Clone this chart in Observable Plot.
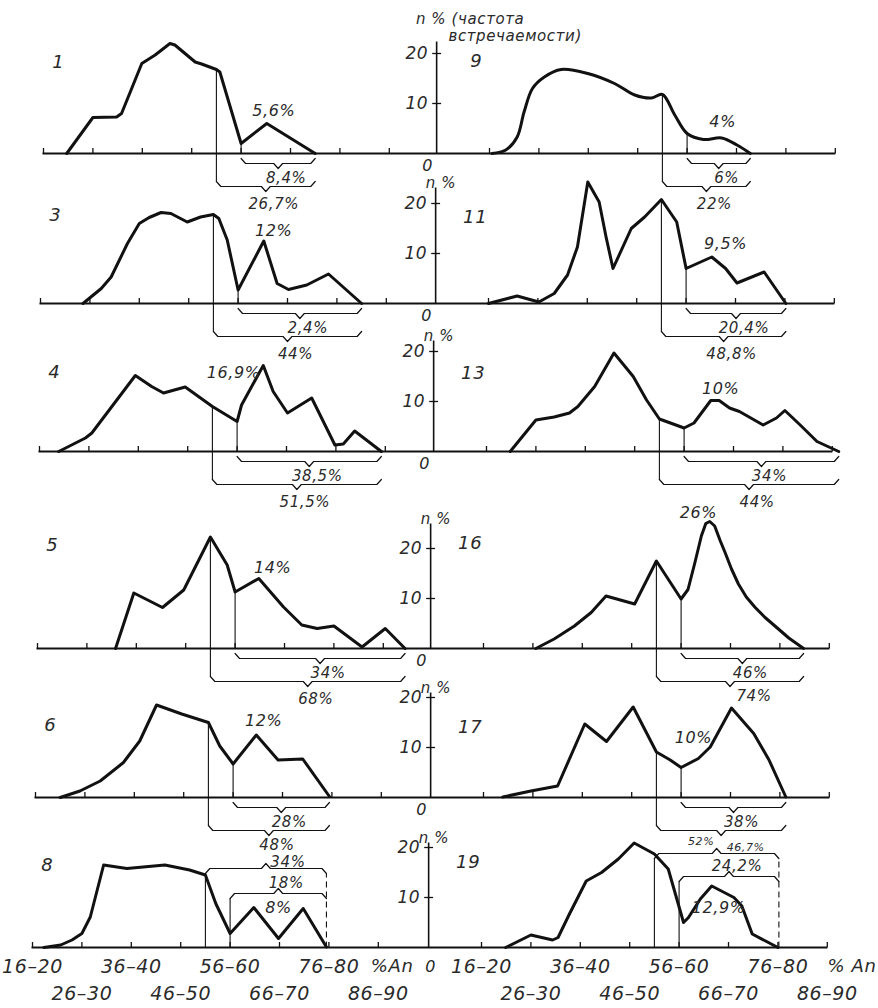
<!DOCTYPE html>
<html><head><meta charset="utf-8">
<script src="https://cdn.jsdelivr.net/npm/d3@7"></script>
<script src="https://cdn.jsdelivr.net/npm/@observablehq/plot@0.6"></script>
<style>body{margin:0;background:#fff}</style>
</head><body><div id="chart"></div>
<script>
// ---------- data ----------
const categories = ["16–20","26–30","36–40","46–50","56–60","66–70","76–80","86–90"];
const yTicks = [10, 20];
// curves: [class index (0 = 16–20), frequency n %]
const p1  = [[0.47,0],[1.0,7.2],[1.48,7.3],[1.58,8],[1.99,18],[2.26,19.7],[2.56,22],[2.66,21.7],[3.07,18.3],[3.2,17.9],[3.5,16.8],[3.57,16.3],[4.0,2],[4.52,6],[5.5,0]];
const p3  = [[0.86,0],[1.23,3],[1.43,5.3],[1.76,12],[2.0,16],[2.2,17.2],[2.44,18.2],[2.64,18],[2.97,16.3],[3.24,17.3],[3.5,17.8],[3.61,17],[3.78,12.7],[4.0,2.7],[4.52,12.5],[4.79,4],[5.02,2.8],[5.39,3.7],[5.83,5.9],[6.5,0]];
const p4  = [[0.39,0],[0.93,2.7],[1.06,3.7],[1.94,15.2],[2.27,13],[2.51,11.7],[2.95,12.9],[3.5,9],[4.0,6],[4.09,9.3],[4.53,17.2],[4.73,12],[5.02,7.7],[5.51,10.7],[5.98,1.3],[6.15,1.5],[6.38,4.1],[6.92,0]];
const p5  = [[1.58,0],[1.95,11.1],[2.53,8.2],[2.96,11.7],[3.5,22.3],[3.84,16.7],[4.0,11.3],[4.48,14],[4.98,8.3],[5.35,4.7],[5.66,4],[6.0,4.5],[6.57,0.3],[7.04,4],[7.44,0]];
const p6  = [[0.5,0],[0.9,1.3],[1.31,3.3],[1.78,7],[2.11,11.3],[2.45,18.5],[2.96,16.7],[3.5,15],[3.73,10.3],[4.0,6.7],[4.47,12.5],[4.91,7.5],[5.41,7.7],[5.95,0.2]];
const p8  = [[0.23,0],[0.57,0.5],[0.8,1.5],[1.0,2.8],[1.17,6.1],[1.44,16.5],[1.91,15.8],[2.68,16.5],[3.18,15.5],[3.5,14.5],[3.71,8.8],[4.0,2.8],[4.48,8],[4.98,1.8],[5.48,7.8],[5.95,0.1]];
const p9  = [[0.05,0],[0.33,0.7],[0.56,3.3],[0.7,8.3],[0.87,13],[1.11,15.3],[1.45,16.8],[1.99,16],[2.53,14],[2.94,11.7],[3.28,11.1],[3.5,11.8],[3.75,7.7],[4.0,4.0],[4.33,2.8],[4.7,3.1],[5.01,1.7],[5.28,0]];
const p11 = [[0,0],[0.58,1.5],[1.02,0.3],[1.33,2],[1.6,5.7],[1.8,11.3],[2.01,24.3],[2.24,20.3],[2.38,13.3],[2.52,7],[2.89,15],[3.16,17.3],[3.5,20.8],[3.81,16.3],[4.0,7],[4.52,9.3],[4.8,7],[5.03,4.1],[5.58,6.3],[6.02,0]];
const p13 = [[0.48,0],[1.0,6.3],[1.37,6.9],[1.68,7.7],[1.85,9],[2.19,13],[2.58,19.7],[2.97,15],[3.24,10.3],[3.5,6.5],[4.0,4.7],[4.2,5.7],[4.54,10.2],[4.71,10.2],[4.92,8.7],[5.12,8],[5.6,5.3],[5.87,6.7],[6.04,8.2],[6.35,5.3],[6.69,2],[7.13,0]];
const p16 = [[1.06,0],[1.43,1.9],[1.84,4.5],[2.18,7.2],[2.48,10.5],[3.06,8.9],[3.5,17.5],[4.0,9.9],[4.14,11.8],[4.28,17.2],[4.41,22.5],[4.5,25],[4.58,25.4],[4.68,24.5],[4.79,21.6],[4.89,19.2],[5.02,15.9],[5.16,12.9],[5.32,10.3],[5.5,8.2],[5.7,6.2],[5.9,4.5],[6.18,2.1],[6.48,0]];
const p17 = [[0.39,0.1],[0.96,1.3],[1.5,2.3],[2.05,14.7],[2.49,11.2],[3.03,18.1],[3.5,9.1],[3.78,7.5],[4.0,6],[4.35,7.8],[4.59,10.1],[5.02,17.9],[5.47,12.8],[5.78,7.5],[6.12,0.1]];
const p19 = [[0.49,0],[1.0,2.5],[1.44,1.5],[1.55,2],[1.78,6.7],[2.12,13.3],[2.43,15],[2.77,17.7],[3.09,20.9],[3.5,18.7],[3.78,15.7],[4.09,5],[4.19,6],[4.43,9.7],[4.66,12.3],[5.11,10],[5.27,8.3],[5.48,2.7],[6.0,0]];
const curves = {"1":p1,"3":p3,"4":p4,"5":p5,"6":p6,"8":p8,"9":p9,"11":p11,"13":p13,"16":p16,"17":p17,"19":p19};
const smoothPanels = ["9"];
// brackets: [panel, from class, to class, label]
const brackets = [
 ["1",4.0,5.5,"8,4%"],["1",3.5,5.5,"26,7%"],
 ["3",4.0,6.5,"2,4%"],["3",3.5,6.5,"44%"],
 ["4",4.0,6.92,"38,5%"],["4",3.5,6.92,"51,5%"],
 ["5",4.0,7.44,"34%"],["5",3.5,7.44,"68%"],
 ["6",4.0,5.95,"28%"],["6",3.5,5.95,"48%"],
 ["8",3.5,5.95,"34%"],["8",4.0,5.95,"18%"],
 ["9",4.0,5.28,"6%"],["9",3.5,5.28,"22%"],
 ["11",4.0,6.02,"20,4%"],["11",3.5,6.02,"48,8%"],
 ["13",4.0,7.13,"34%"],["13",3.5,7.13,"44%"],
 ["16",4.0,6.48,"46%"],["16",3.5,6.48,"74%"],
 ["17",4.0,6.12,"38%"],["17",3.5,6.12,"52%"],
 ["19",3.5,6.02,"46,7%"],["19",4.0,6.02,"24,2%"]
];
// peak annotations: [panel, label, class, n %]
const peakNotes = [
 ["1","5,6%",4.66,8.6],["3","12%",4.72,14.6],["4","16,9%",3.93,15.8],["5","14%",4.76,16.2],["6","12%",4.62,15.4],["8","8%",4.98,8],
 ["9","4%",4.72,6.4],["11","9,5%",4.8,12],["13","10%",4.74,12.6],["16","26%",4.35,27.2],["17","10%",4.25,12],["19","12,9%",4.8,8]
];

// ---------- layout ----------
const W = 878, H = 1008, U = 49.4, V = 5;
const rowGeom = [
 {yb:153, l0:43, r0:489, top:22.4},
 {yb:303, l0:40, r0:488, top:23.2},
 {yb:451, l0:39, r0:486, top:22.2},
 {yb:648, l0:37, r0:483, top:25},
 {yb:797, l0:35, r0:483, top:21},
 {yb:947, l0:32, r0:481, top:21}
];
const place = {"1":[0,"L"],"3":[1,"L"],"4":[2,"L"],"5":[3,"L"],"6":[4,"L"],"8":[5,"L"],
               "9":[0,"R"],"11":[1,"R"],"13":[2,"R"],"16":[3,"R"],"17":[4,"R"],"19":[5,"R"]};
const numberHeight = {"1":18.2,"3":17.6,"4":15.8,"5":20.6,"6":14.4,"8":16.4,"9":18.4,"11":17.2,"13":15.6,"16":21,"17":14,"19":17};
const overLevels = {"8":[15.8,10.8], "19":[18.8,14.2]};
const labelNudge = {"17|52%":[-28,-7], "19|46,7%":[21,0], "16|74%":[16,-3], "8|34%":[14,0], "6|48%":[0,-3]};
const smallLabels = ["17|52%","19|46,7%"];

const rx = (r, s, i) => i + (s === "L" ? rowGeom[r].l0 : rowGeom[r].r0) / U;
const ry = (r, v) => v + (H - rowGeom[r].yb) / V;
const gx = (p, i) => rx(place[p][0], place[p][1], i);
const gy = (p, v) => ry(place[p][0], v);
function valAt(pts, x) {
  for (let k = 1; k < pts.length; k++) {
    const [x0, y0] = pts[k-1], [x1, y1] = pts[k];
    if (x >= x0 && x <= x1) return y0 + (y1 - y0) * (x - x0) / (x1 - x0);
  }
  return 0;
}
const panels = Object.keys(curves);

// ---------- derived mark data ----------
const baseRows = d3.range(6).map(r => ({x1: rx(r,"L",-0.02), x2: rx(r,"R",7), y: ry(r,0)}));
const ticks = [];
d3.range(6).forEach(r => ["L","R"].forEach(s => d3.range(8).forEach(i =>
  ticks.push({x: rx(r,s,i), y1: ry(r,0), y2: ry(r,1.1)}))));
const axes = d3.range(6).map(r => ({r, x: rx(r,"R",-1.07), y1: ry(r,0), y2: ry(r,rowGeom[r].top)}));
const axisTicks = axes.flatMap(a => yTicks.map(v => ({x1: a.x - 0.09, x2: a.x + 0.09, y: ry(a.r, v), v: String(v), xl: a.x - 0.17})));
const zeroLabels = axes.map(a => ({x: a.r === 5 ? a.x + 0.04 : a.x - 0.18, y: ry(a.r, a.r === 5 ? -3.8 : -2.5), t: "0"}));
const nLabels = axes.filter(a => a.r > 0).map(a => ({x: a.x - 0.2, y: ry(a.r, rowGeom[a.r].top + 0.9), t: "n %"}));
const titleLabels = [
  {x: axes[0].x - 0.42, y: ry(0, rowGeom[0].top + 4.4), t: "n % (частота"},
  {x: axes[0].x + 0.24, y: ry(0, rowGeom[0].top + 1.0), t: "встречаемости)"}
];

const lineData = panels.flatMap(p => curves[p].map(([i, v]) => ({p, x: gx(p,i), y: gy(p,v)})));
const vlines = [], dashed = [], braces = [], braceLabels = [];
brackets.forEach(([p, a, b, t], k) => {
  const over = overLevels[p];
  const outer = a < 4;
  const lvl = over ? (outer ? over[0] : over[1]) : (outer ? -6.6 : -2);
  const dir = over ? 1 : -1;
  if (over) {
    vlines.push({x: gx(p,a), y1: gy(p,0), y2: gy(p,lvl - 1)});
    if (outer) dashed.push({x: gx(p,b), y1: gy(p,0), y2: gy(p,lvl - 1)});
  } else {
    vlines.push({x: gx(p,a), y1: gy(p, valAt(curves[p], a)), y2: gy(p, outer ? lvl + 1 : 0)});
  }
  const h = 1, d = 0.09, m = (a + b) / 2;
  [[a, lvl - dir*h],[a + d, lvl],[m - d, lvl],[m, lvl + dir*h],[m + d, lvl],[b - d, lvl],[b, lvl - dir*h]]
    .forEach(([i, v]) => braces.push({id: k, x: gx(p,i), y: gy(p,v)}));
  const key = p + "|" + t;
  const [nx, ny] = labelNudge[key] || [0, 0];
  const ly = over ? lvl + (outer ? 1.3 : 2.0) : lvl - (outer ? 3.6 : 2.9);
  braceLabels.push({x: gx(p, m) + (8 + nx) / U, y: gy(p, ly) - ny / V, t, small: smallLabels.includes(key)});
});
const notes = peakNotes.map(([p, t, i, v]) => ({x: gx(p,i), y: gy(p,v), t}));
const numbers = panels.map(p => ({x: gx(p, place[p][1] === "L" ? 0.3 : -0.27), y: gy(p, numberHeight[p]), t: p}));
const catLabels = ["L","R"].flatMap(s => categories.map((c, i) => ({x: rx(5,s,i), y: ry(5, i % 2 === 0 ? -3.8 : -9.2), t: c})));
const unitLabels = [{x: rx(5,"L",7.28), y: ry(5,-3.8), t: "%An"}, {x: rx(5,"R",7.5), y: ry(5,-3.8), t: "% An"}];

const font = {fontFamily: '"DejaVu Sans", "Liberation Sans", sans-serif', fontStyle: "italic", fill: "#2a2a2a"};
const ink = "#111";

const chart = Plot.plot({
  width: W, height: H, margin: 0,
  x: {domain: [0, W / U], range: [0, W], axis: null},
  y: {domain: [0, H / V], range: [H, 0], axis: null},
  style: {background: "white", letterSpacing: "0.6px"},
  marks: [
    Plot.link(baseRows, {x1: "x1", x2: "x2", y1: "y", y2: "y", stroke: ink, strokeWidth: 1.8}),
    Plot.link(ticks, {x1: "x", x2: "x", y1: "y1", y2: "y2", stroke: ink, strokeWidth: 1.3}),
    Plot.link(axes, {x1: "x", x2: "x", y1: "y1", y2: "y2", stroke: ink, strokeWidth: 1.6}),
    Plot.link(axisTicks, {x1: "x1", x2: "x2", y1: "y", y2: "y", stroke: ink, strokeWidth: 1.3}),
    Plot.link(vlines, {x1: "x", x2: "x", y1: "y1", y2: "y2", stroke: ink, strokeWidth: 1.1}),
    Plot.link(dashed, {x1: "x", x2: "x", y1: "y1", y2: "y2", stroke: ink, strokeWidth: 1.1, strokeDasharray: "6,4"}),
    Plot.line(braces, {x: "x", y: "y", z: "id", stroke: ink, strokeWidth: 1.2}),
    Plot.line(lineData.filter(d => !smoothPanels.includes(d.p)), {x: "x", y: "y", z: "p", stroke: ink, strokeWidth: 3, strokeLinejoin: "round", curve: "linear"}),
    Plot.line(lineData.filter(d => smoothPanels.includes(d.p)), {x: "x", y: "y", z: "p", stroke: ink, strokeWidth: 3, strokeLinejoin: "round", curve: "catmull-rom"}),
    Plot.text(axisTicks, {x: "xl", y: "y", text: "v", textAnchor: "end", fontSize: 17, ...font}),
    Plot.text(zeroLabels, {x: "x", y: "y", text: "t", fontSize: 16, ...font}),
    Plot.text(nLabels, {x: "x", y: "y", text: "t", textAnchor: "start", fontSize: 15, ...font}),
    Plot.text(titleLabels, {x: "x", y: "y", text: "t", textAnchor: "start", fontSize: 15, ...font}),
    Plot.text(braceLabels.filter(d => !d.small), {x: "x", y: "y", text: "t", fontSize: 15, ...font}),
    Plot.text(braceLabels.filter(d => d.small), {x: "x", y: "y", text: "t", fontSize: 11, ...font}),
    Plot.text(notes, {x: "x", y: "y", text: "t", fontSize: 16, ...font}),
    Plot.text(numbers, {x: "x", y: "y", text: "t", fontSize: 18, ...font}),
    Plot.text(catLabels, {x: "x", y: "y", text: "t", fontSize: 19, ...font}),
    Plot.text(unitLabels, {x: "x", y: "y", text: "t", fontSize: 18, ...font})
  ]
});
document.getElementById("chart").appendChild(chart);
</script>
</body></html>
